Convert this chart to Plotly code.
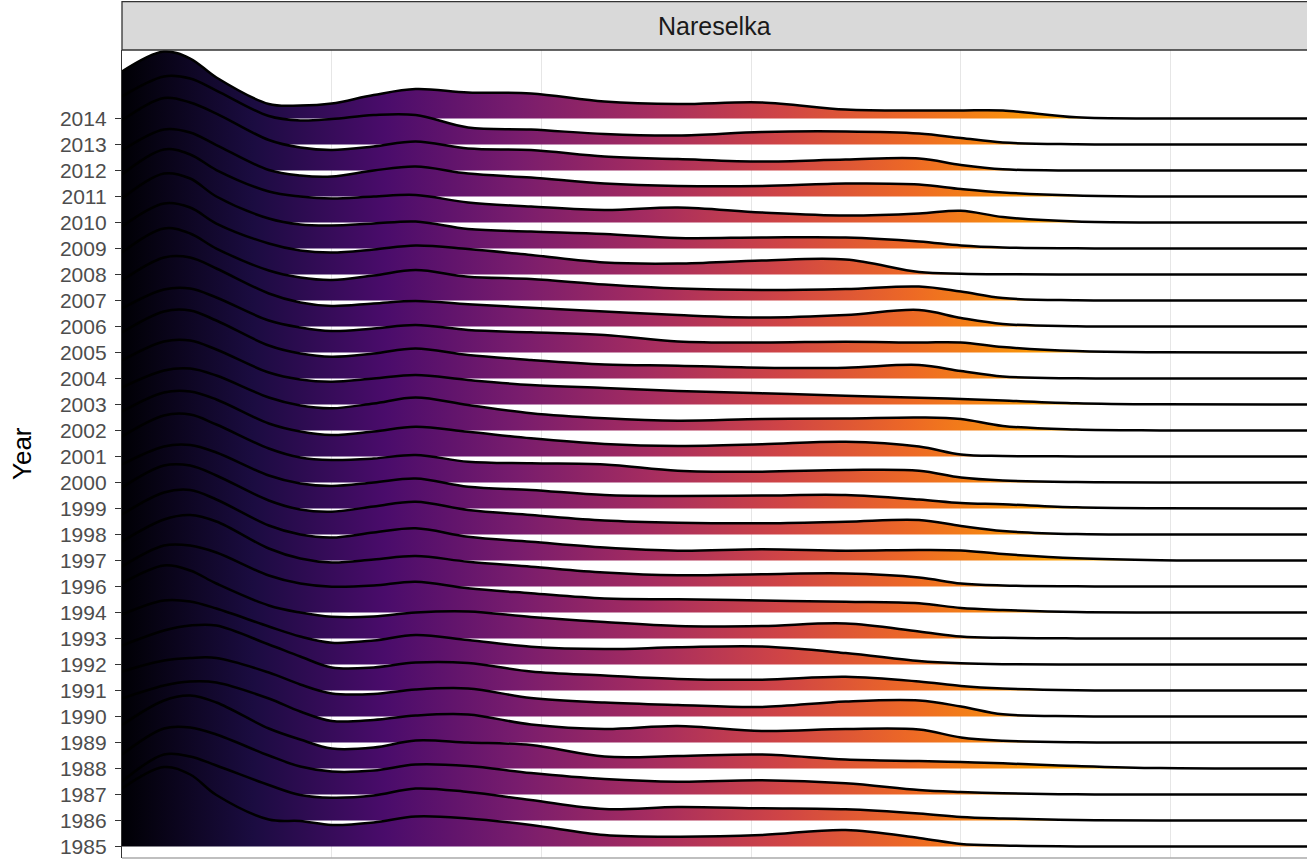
import plotly.graph_objects as go

# ---------------- data ----------------
years = [1985, 1986, 1987, 1988, 1989, 1990, 1991, 1992, 1993, 1994,
         1996, 1997, 1998, 1999, 2000, 2001, 2002, 2003, 2004, 2005,
         2006, 2007, 2008, 2009, 2010, 2011, 2012, 2013, 2014]

# x positions where the density of each year was read
x_grid = [0, 0.2, 0.325, 0.45, 0.7, 0.85, 1.0, 1.2, 1.4, 1.65, 1.95,
          2.3, 2.65, 3.05, 3.45, 3.8, 4.0, 4.2, 4.55, 4.95, 5.65]

# density values (arbitrary units) for each year
d1985 = [58, 79.5, 72, 51.5, 27, 25.5, 21.5, 24, 30, 28, 21.5, 11.5, 9.8, 11.5, 16.5, 8.5, 2.5, 1, 0.1, 0, 0]
d1986 = [39, 66, 64, 55, 35.5, 25.5, 22.8, 25, 32, 28.5, 20.5, 11.5, 13.5, 12.2, 11.2, 7, 3.5, 2, 0.4, 0, 0]
d1987 = [40, 66, 67, 60, 39, 28, 23, 24, 30, 28.5, 21.5, 15.5, 12.8, 14.2, 11.2, 4.5, 2.5, 1.2, 0.2, 0, 0]
d1988 = [43.5, 68, 73, 66, 40, 29, 20, 21, 28, 26, 23.5, 12, 12.5, 14, 9, 7.5, 6.5, 5.2, 2.5, 0.4, 0]
d1989 = [44, 57, 61, 60, 44, 31, 21.5, 22.5, 27, 28, 18, 13.5, 16.5, 11.5, 13.5, 13, 5, 1.8, 0.2, 0, 0]
d1990 = [45, 56, 58.5, 58.5, 44, 32, 23, 22.5, 27, 28, 18.5, 14, 11.5, 9.5, 15, 16, 10, 2.2, 0.3, 0, 0]
d1991 = [45, 60, 65, 65, 46, 34, 23, 23, 28, 27.5, 19, 15, 11.5, 10.8, 13.8, 9, 4.5, 2, 0.3, 0, 0]
d1992 = [50, 64, 63, 56, 38, 28, 21.8, 24, 29.5, 24.5, 17.8, 15.5, 17.2, 18, 11.5, 3.5, 1.2, 0.3, 0, 0, 0]
d1993 = [55, 73, 68, 55, 33, 26, 21.8, 22, 26, 27, 21.5, 16.5, 12.5, 12.5, 15, 7, 2, 0.7, 0.1, 0, 0]
d1994 = [46, 67, 67, 60, 37, 29, 25.8, 27, 30.8, 24.2, 19.2, 14, 13.2, 12, 10.8, 9.2, 4.5, 2.5, 0.4, 0, 0]
d1996 = [45, 67, 71.5, 65, 38, 28, 24, 27, 30.5, 24.8, 19.8, 14, 11.2, 12.2, 13, 9, 3, 1, 0.2, 0, 0]
d1997 = [46, 68, 70.5, 61, 35, 26, 23, 28, 32.2, 23.8, 18.8, 13, 9.8, 11.2, 9.8, 10.5, 10, 6.5, 2.2, 0.3, 0]
d1998 = [47, 69, 69, 59, 34, 25, 22.8, 28, 32.8, 24.5, 19.5, 14, 11.8, 11.2, 12.8, 14.5, 8.5, 3.5, 0.5, 0, 0]
d1999 = [44, 62, 63.5, 56, 33, 25, 22.5, 26, 30, 21.8, 18.5, 13.5, 12.5, 13, 13.5, 9, 5.5, 4.2, 1.2, 0.2, 0]
d2000 = [46, 67, 68, 58, 34, 25, 22.5, 24, 27.5, 20.8, 19.2, 18, 11.8, 10.8, 12.5, 11.8, 5, 2, 0.4, 0, 0]
d2001 = [45, 64, 65, 57, 33, 25, 21.5, 25, 29.8, 24.8, 18.2, 12.5, 10.5, 12.2, 14.8, 10, 2, 0.5, 0.1, 0, 0]
d2002 = [43, 60, 62, 55, 33, 25, 22.2, 27, 33, 25.5, 17.2, 12.2, 9.8, 11.5, 12, 13, 11.5, 4.5, 1, 0.1, 0]
d2003 = [44, 63, 64, 55, 32, 25, 22.8, 26, 29.5, 24.5, 19.5, 16.5, 13.5, 11.2, 8.8, 6.8, 5.5, 4, 1.3, 0.2, 0]
d2004 = [46, 67, 68, 58, 33, 25, 21.8, 25, 30, 23.5, 18.5, 14, 12.8, 10.8, 10.8, 13.5, 7.5, 2, 0.2, 0, 0]
d2005 = [44, 63, 64, 55, 32, 25, 21.5, 24, 27.5, 22.5, 20.2, 17.5, 11, 10, 10.8, 10, 10, 5.5, 1.5, 0.2, 0]
d2006 = [46, 69, 69, 58, 33, 24, 20.5, 23, 25.5, 22.2, 18.8, 15, 11.5, 9, 11.5, 16.5, 8.5, 2.5, 0.3, 0, 0]
d2007 = [48, 72, 67, 52, 30, 23, 20.5, 25, 30.5, 23.8, 21.5, 16, 12, 10.5, 11.5, 14, 9, 2.5, 0.2, 0, 0]
d2008 = [48, 71, 67, 51, 31, 24, 22, 25, 29, 25.5, 19.5, 12, 11, 14, 15, 2.5, 0.8, 0.2, 0, 0, 0]
d2009 = [50, 75, 70, 52, 30, 24, 23, 25, 27, 19.5, 17, 14.5, 10.5, 11, 11, 7, 3, 1, 0.2, 0, 0]
d2010 = [48, 73, 68, 52.5, 31, 26, 24, 26, 27.5, 20, 16, 12.5, 15, 10, 7, 9, 11.8, 5.5, 1, 0, 0]
d2011 = [46, 67, 64, 51.5, 26.5, 21, 20, 26, 30, 23, 19, 13, 10.5, 10.5, 13, 12, 7.5, 4, 1, 0, 0]
d2012 = [50, 72.5, 68, 57, 30.5, 23, 20.5, 24, 29, 22, 20.5, 14, 11.5, 9, 11, 12, 5.5, 1.2, 0, 0, 0]
d2013 = [48, 68, 66, 54, 28.5, 24, 25.5, 29.5, 29.5, 17, 15, 10.5, 9, 12.5, 13, 11, 6.5, 2, 0.3, 0, 0]
d2014 = [47, 67, 60, 41, 14.5, 13, 15, 23.5, 29.5, 26, 25, 17, 14.5, 16, 9, 8, 8, 8, 1.2, 0, 0]

dens = {
    1985: d1985, 1986: d1986, 1987: d1987, 1988: d1988, 1989: d1989,
    1990: d1990, 1991: d1991, 1992: d1992, 1993: d1993, 1994: d1994,
    1996: d1996, 1997: d1997, 1998: d1998, 1999: d1999, 2000: d2000,
    2001: d2001, 2002: d2002, 2003: d2003, 2004: d2004, 2005: d2005,
    2006: d2006, 2007: d2007, 2008: d2008, 2009: d2009, 2010: d2010,
    2011: d2011, 2012: d2012, 2013: d2013, 2014: d2014,
}

# ---------------- figure ----------------
SCALE = 1 / 26.0
X_MAX = 5.65
W, H = 1307, 860
ML, MR, MT, MB = 122, 0, 50, 2
plot_h = H - MT - MB
FONT = "Liberation Sans, Arial, sans-serif"

fig = go.Figure()

# draw from the top ridge down so lower ridges overlap upper ones
for i in reversed(range(len(years))):
    yr = years[i]
    base = i
    fig.add_trace(go.Scatter(
        x=x_grid, y=[base] * len(x_grid), mode="lines",
        line=dict(width=0, color="rgba(0,0,0,0)"),
        hoverinfo="skip", showlegend=False))
    fig.add_trace(go.Scatter(
        x=x_grid, y=[base + v * SCALE for v in dens[yr]], mode="lines",
        line=dict(color="black", width=2.5, shape="spline", smoothing=1.0),
        fill="tonexty",
        fillgradient=dict(type="horizontal", colorscale="Inferno",
                          start=0, stop=X_MAX),
        hoverinfo="skip", showlegend=False, name=str(yr)))

fig.update_layout(
    width=W, height=H,
    margin=dict(l=ML, r=MR, t=MT, b=MB, autoexpand=False),
    plot_bgcolor="white", paper_bgcolor="white",
    showlegend=False,
    font=dict(family=FONT),
    xaxis=dict(range=[0, X_MAX], tickvals=[1, 2, 3, 4, 5],
               showticklabels=False, ticks="", showgrid=True,
               gridcolor="#E6E6E6", gridwidth=1.3, zeroline=False,
               showline=False, automargin=False),
    yaxis=dict(range=[-0.442, 30.635], tickmode="array",
               tickvals=list(range(len(years))),
               ticktext=[str(y) for y in years],
               ticks="outside", ticklen=6, tickwidth=1.1, tickcolor="#333333",
               ticklabelstandoff=4,
               tickfont=dict(family=FONT, size=21, color="#4D4D4D"),
               showgrid=False, zeroline=False, automargin=False,
               showline=True, linecolor="#333333", linewidth=1.3),
)

# facet strip
strip_top = 1 + (MT - 1.7) / plot_h
fig.add_shape(type="rect", xref="paper", yref="paper",
              x0=0, x1=1.01, y0=1, y1=strip_top,
              fillcolor="#D9D9D9", line=dict(color="#333333", width=1.3),
              layer="above")
fig.add_annotation(text="Nareselka", xref="paper", yref="paper",
                   x=0.5, y=(1 + strip_top) / 2, showarrow=False,
                   xanchor="center", yanchor="middle",
                   font=dict(size=25, color="#1A1A1A", family=FONT))
# bottom border (partly cropped in the reference)
fig.add_shape(type="line", xref="paper", yref="paper",
              x0=0, x1=1, y0=0, y1=0,
              line=dict(color="#AAAAAA", width=1.3), layer="above")

# y axis title
fig.add_annotation(text="Year", xref="paper", yref="paper",
                   x=(22 - ML) / (W - ML - MR), y=0.5, textangle=-90,
                   showarrow=False, xanchor="center", yanchor="middle",
                   font=dict(size=26, color="black", family=FONT))

fig.write_html(
    "out.html",
    config={"displayModeBar": False},
    post_script="document.body.style.margin='0';document.body.style.overflow='hidden';",
)
